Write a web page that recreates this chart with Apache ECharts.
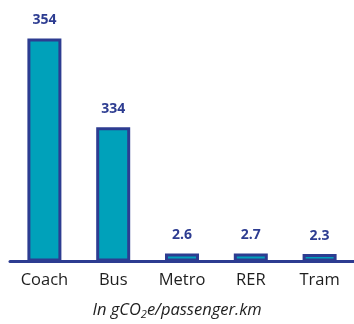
<!DOCTYPE html>
<html>
<head>
<meta charset="utf-8">
<title>CO2 per passenger.km</title>
<script src="https://cdn.jsdelivr.net/npm/echarts@6/dist/echarts.min.js"></script>
<style>
  html, body { margin: 0; padding: 0; background: #fff; }
</style>
</head>
<body>
<div id="main" style="width: 354px; height: 324px;"></div>
<script type="text/javascript">

// categories and the printed values
var categories = ['Coach', 'Bus', 'Metro', 'RER', 'Tram'];
var printedValues = ['354', '334', '2.6', '2.7', '2.3'];
// bar heights as they are drawn in the reference (same units as Coach = 354);
// the original graphic is not to scale with its printed numbers
var barHeights = [354, 213, 12.7, 12.7, 12];

var darkBlue = '#2d3c91';
var teal = '#00a1ba';
var font = 'Open Sans';

var chartDom = document.getElementById('main');
var myChart = echarts.init(chartDom);
var option;

option = {
  animation: false,
  grid: {
    left: 10,
    top: 38.5,
    width: 348.75,
    height: 223
  },
  xAxis: {
    type: 'category',
    data: categories,
    axisLine: { lineStyle: { color: darkBlue, width: 3 } },
    axisTick: { show: false },
    axisLabel: {
      color: '#1e1e1e',
      fontFamily: font,
      fontSize: 16.5,
      margin: 10
    }
  },
  yAxis: {
    type: 'value',
    min: 0,
    max: 354,
    show: false,
    splitLine: { show: false }
  },
  graphic: [
    {
      type: 'text',
      left: 'center',
      top: 300,
      style: {
        text: '{a|In gCO}{s|2}{a|e/passenger.km}',
        rich: {
          a: { fontFamily: font, fontStyle: 'italic', fontSize: 16.5, fill: '#1e1e1e', lineHeight: 22 },
          s: { fontFamily: font, fontStyle: 'italic', fontSize: 11, fill: '#1e1e1e', lineHeight: 22, padding: [9, 0, 0, 0] }
        }
      }
    }
  ],
  series: [
    {
      type: 'bar',
      data: barHeights,
      barWidth: 34,
      itemStyle: {
        color: teal,
        borderColor: darkBlue,
        borderWidth: 3
      },
      label: {
        show: true,
        position: 'top',
        distance: 11,
        color: darkBlue,
        fontFamily: font,
        fontWeight: 'bold',
        fontSize: 14,
        formatter: function (p) {
          return printedValues[p.dataIndex];
        }
      }
    }
  ]
};

option && myChart.setOption(option);
</script>
</body>
</html>
